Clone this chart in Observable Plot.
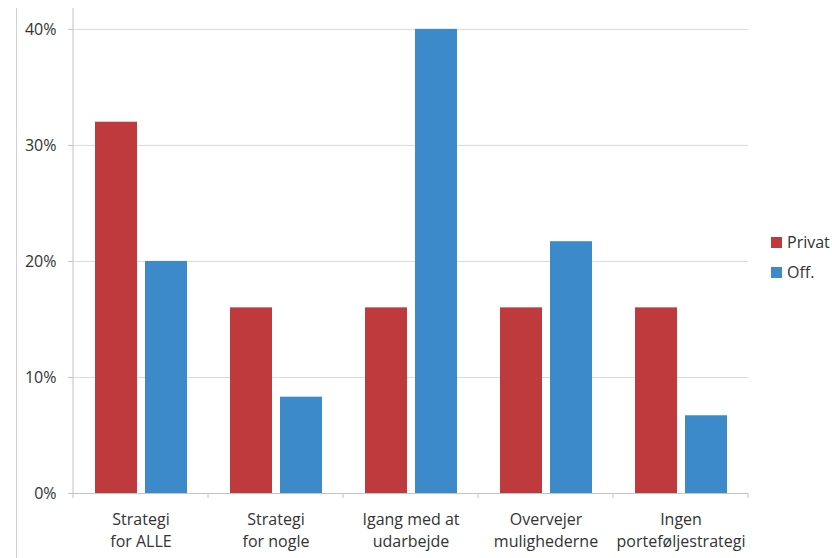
<!DOCTYPE html>
<html>
<head>
<meta charset="utf-8">
<script src="https://cdn.jsdelivr.net/npm/d3@7"></script>
<script src="https://cdn.jsdelivr.net/npm/@observablehq/plot@0.6"></script>
<style>
  body { margin: 0; background: #fff; }
  #wrap { position: relative; width: 832px; height: 558px; overflow: hidden; font-family: "Open Sans", sans-serif; color: #333; }
  #border { position: absolute; left: 16px; top: 8px; bottom: 0; width: 1px; background: #cfcfcf; }
  #chart { position: absolute; left: 0; top: 0; }
  .legend { position: absolute; left: 771px; top: 231px; font-size: 16px; }
  .item { display: flex; align-items: center; height: 22px; margin-bottom: 8px; }
  .sw { width: 11px; height: 11px; margin-right: 5px; }
</style>
</head>
<body>
<div id="wrap">
  <div id="border"></div>
  <div id="chart"></div>
  <div class="legend" id="legend"></div>
</div>
<script>
const categories = ["Strategi\nfor ALLE", "Strategi\nfor nogle", "Igang med at\nudarbejde", "Overvejer\nmulighederne", "Ingen\nporteføljestrategi"];
const series = ["Privat", "Off."];
const privat = [32, 16, 16, 16, 16];
const off = [20, 8.3, 40, 21.7, 6.7];
const yTicks = [0, 10, 20, 30, 40];
const colors = ["#BE3A3C", "#3C8AC9"];

const rows = categories.flatMap((c, i) => [
  {cat: c, s: series[0], v: privat[i]},
  {cat: c, s: series[1], v: off[i]}
]);

const chart = Plot.plot({
  width: 832,
  height: 558,
  marginLeft: 73,
  marginRight: 84,
  marginTop: 8,
  marginBottom: 65,
  style: {fontFamily: "Open Sans, sans-serif", fontSize: "16px", color: "#333", background: "transparent"},
  fx: {domain: categories, padding: 0, label: null},
  x: {domain: series, paddingInner: 0.16, paddingOuter: 0.43, axis: null},
  y: {domain: [0, 41.8], label: null},
  color: {domain: series, range: colors},
  marks: [
    Plot.gridY(yTicks.slice(1), {stroke: "#d9d9d9", strokeOpacity: 1}),
    Plot.barY(rows, {fx: "cat", x: "s", y: "v", fill: "s"}),
    Plot.ruleY([0], {stroke: "#c4c4c4"}),
    Plot.axisY(yTicks, {tickFormat: d => d + "%", tickSize: 5, tickPadding: 12, stroke: "#c4c4c4", fill: "#333", fontSize: 16, label: null}),
    Plot.axisFx({anchor: "bottom", tickSize: 0, tickPadding: 16, lineHeight: 1.375, fill: "#333", fontSize: 16, label: null})
  ]
});
document.getElementById("chart").appendChild(chart);

// axis line and category boundary ticks, positioned from Plot's own scales
const fx = chart.scale("fx");
const y = chart.scale("y");
const svg = d3.select(chart);
const y0 = y.apply(0);
const yTop = y.apply(y.domain[1]);
const left = fx.apply(categories[0]);
const step = fx.step;
svg.append("line")
  .attr("x1", left).attr("x2", left)
  .attr("y1", yTop).attr("y2", y0 + 5)
  .attr("stroke", "#c4c4c4");
categories.forEach((c, i) => {
  const xb = fx.apply(c) + step;
  svg.append("line")
    .attr("x1", xb).attr("x2", xb)
    .attr("y1", y0).attr("y2", y0 + 5)
    .attr("stroke", "#c4c4c4");
});

const legend = document.getElementById("legend");
series.forEach((s, i) => {
  const it = document.createElement("div");
  it.className = "item";
  it.innerHTML = `<div class="sw" style="background:${colors[i]}"></div><span>${s}</span>`;
  legend.appendChild(it);
});
</script>
</body>
</html>
